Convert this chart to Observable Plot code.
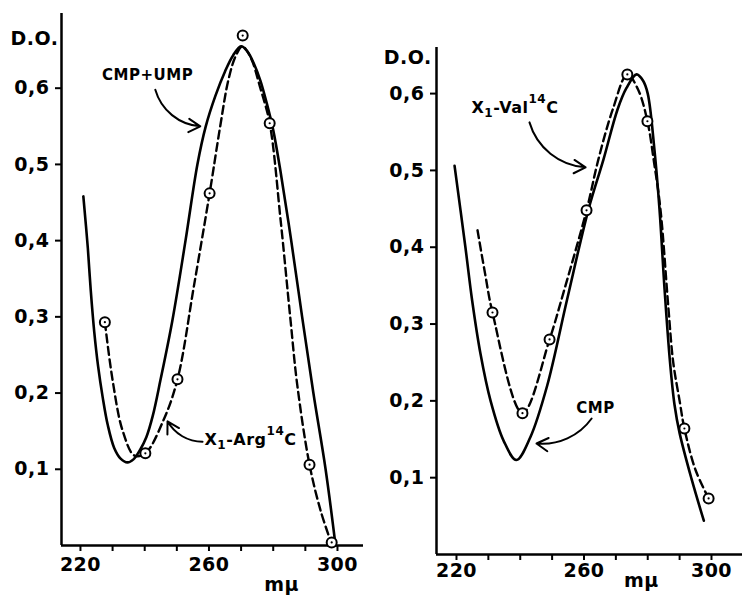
<!DOCTYPE html>
<html>
<head>
<meta charset="utf-8">
<script src="https://cdn.jsdelivr.net/npm/d3@7"></script>
<script src="https://cdn.jsdelivr.net/npm/@observablehq/plot@0.6"></script>
<style>
  html, body { margin: 0; padding: 0; background: #fff; }
  #wrap { position: relative; width: 742px; height: 595px; overflow: hidden; }
  #left, #right { position: absolute; top: 0; }
  #left { left: 0; }
  #right { left: 371px; }
  svg text { letter-spacing: 0.5px; }
  svg text.wide { letter-spacing: 1px; }
</style>
</head>
<body>
<div id="wrap"><div id="left"></div><div id="right"></div></div>
<script>
// ---------- Left panel data ----------
const leftSolid = [ // CMP+UMP
  [220.9,0.458],[222.3,0.39],[223.2,0.335],[224.3,0.28],[225.5,0.235],[226.9,0.195],[228.5,0.158],
  [230.5,0.128],[232.5,0.114],[234.6,0.109],[236.5,0.113],[238.5,0.125],[240.5,0.142],[242.5,0.17],
  [244.9,0.217],[248.6,0.295],[252.7,0.40],[256.4,0.50],[259,0.55],[262,0.59],[265,0.622],
  [267.5,0.643],[270,0.655],[272,0.648],[274,0.632],[276,0.61],[278,0.58],[280,0.545],
  [282.3,0.49],[285.6,0.40],[289,0.30],[292.5,0.20],[296.3,0.10],[299.4,0.0]
];
const leftDashed = [ // X1-Arg14C
  [227.6,0.293],[230,0.217],[233.1,0.151],[236.8,0.118],[240.2,0.121],[245.8,0.164],
  [250.2,0.218],[255.3,0.34],[260.2,0.462],[263.5,0.55],[266,0.61],[268.3,0.642],
  [270.4,0.655],[273,0.64],[276,0.60],[278.9,0.554],[282.3,0.427],[285.4,0.295],[287.5,0.21],
  [291.3,0.106],[294.8,0.045],[298.1,0.003]
];
const leftCircles = [
  [227.6,0.293],[240.2,0.121],[250.2,0.218],[260.2,0.462],[270.5,0.669],[278.9,0.554],[291.3,0.106],[298.2,0.004]
];
// ---------- Right panel data ----------
const rightSolid = [ // CMP
  [219.4,0.506],[222.8,0.40],[224.9,0.331],[227.5,0.262],[230.7,0.20],[234.8,0.148],[238.8,0.123],
  [243.2,0.153],[248.4,0.219],[254.7,0.332],[261.4,0.449],[266.1,0.514],[270.5,0.579],[273.3,0.607],
  [276.5,0.625],[278.5,0.617],[280,0.60],[282.1,0.527],[283.7,0.449],[285.3,0.344],[287,0.25],
  [288.4,0.195],[290,0.158],[293.7,0.099],[297.6,0.044]
];
const rightDashed = [ // X1-Val14C
  [226.6,0.422],[229,0.365],[231.3,0.315],[240.7,0.184],[249.2,0.28],[253.5,0.34],
  [260.8,0.448],[264.5,0.514],[269,0.579],[273.6,0.625],[277,0.605],[279.9,0.564],[282,0.51],
  [284,0.449],[286.5,0.32],[288,0.25],[290,0.2],[291.5,0.164],[295,0.11],[299.1,0.073]
];
const rightCircles = [
  [231.3,0.315],[240.7,0.184],[249.2,0.28],[260.8,0.448],[273.6,0.625],[279.9,0.564],[291.5,0.164],[299.1,0.073]
];
// ---------- Ticks ----------
const xTicks = [220,230,240,250,260,270,280,290,300];
const xTickLabels = [220,260,300];
const yTicks = [0.1,0.2,0.3,0.4,0.5,0.6];
// ---------- Annotations ----------
const leftNotes = [{text:"CMP+UMP", x:240.9, y:0.617}];
const leftNotesStart = [{text:"X₁-Arg¹⁴C", x:258.6, y:0.138}];
const leftArrowA = [{x1:243.3, y1:0.598, x2:257.3, y2:0.550}];
const leftArrowB = [{x1:258.0, y1:0.136, x2:247.1, y2:0.163}];
const rightNotes = [{text:"CMP", x:263.6, y:0.190}];
const rightNotesStart = [{text:"X₁-Val¹⁴C", x:224.7, y:0.582}];
const rightArrowA = [{x1:242.9, y1:0.5625, x2:260.5, y2:0.504}];
const rightArrowB = [{x1:262.4, y1:0.177, x2:245.1, y2:0.1445}];
const leftAxisLabels = {yLabel:{text:"D.O.", x:213.15, y:0.665}, xLabel:{text:"mμ", x:282.6, y:-0.052}};
const rightAxisLabels = {yLabel:{text:"D.O.", x:212.2, y:0.647}, xLabel:{text:"mμ", x:278.0, y:-0.034}};

const FONT = "DejaVu Sans";
const fmt = d => d.toFixed(1).replace(".", ",");

function panel(opt) {
  const {solid, dashed, circles, xDomain, yDomain, margins, notes, notesStart, arrowA, arrowB, labels, xPad} = opt;
  const arrowStyle = {x1: "x1", y1: "y1", x2: "x2", y2: "y2", stroke: "black", strokeWidth: 2, headLength: 10};
  return Plot.plot({
    width: 371, height: 595,
    marginLeft: margins[0], marginRight: margins[1], marginTop: margins[2], marginBottom: margins[3],
    x: {domain: xDomain},
    y: {domain: yDomain},
    style: {fontFamily: FONT, background: "white", color: "black"},
    marks: [
      Plot.ruleY([0], {stroke: "black", strokeWidth: 2.5}),
      Plot.ruleX([xDomain[0]], {stroke: "black", strokeWidth: 2.5}),
      Plot.axisX({ticks: xTicks, tickSize: 6, tickPadding: xPad, strokeWidth: 2,
        tickFormat: d => xTickLabels.includes(d) ? String(d) : "",
        fontSize: 19, fontWeight: "bold", fontFamily: FONT, label: null}),
      Plot.axisY({ticks: yTicks, tickSize: 6, tickPadding: 6, strokeWidth: 2,
        tickFormat: fmt, fontSize: 19, fontWeight: "bold", fontFamily: FONT, label: null}),
      Plot.line(solid, {x: d => d[0], y: d => d[1], curve: "catmull-rom", stroke: "black", strokeWidth: 2.6}),
      Plot.line(dashed, {x: d => d[0], y: d => d[1], curve: "catmull-rom", stroke: "black", strokeWidth: 2.4, strokeDasharray: "8,4.5"}),
      Plot.dot(circles, {x: d => d[0], y: d => d[1], r: 5, fill: "white", stroke: "black", strokeWidth: 2}),
      Plot.dot(circles, {x: d => d[0], y: d => d[1], r: 1.1, fill: "black"}),
      Plot.arrow(arrowA, {...arrowStyle, bend: -35}),
      Plot.arrow(arrowB, {...arrowStyle, bend: 30}),
      Plot.text(notes, {x: "x", y: "y", text: "text", fontSize: 15, fontWeight: "bold", fontFamily: FONT, fill: "black", textAnchor: "middle", className: "wide"}),
      Plot.text(notesStart, {x: "x", y: "y", text: "text", fontSize: 16, fontWeight: "bold", fontFamily: FONT, fill: "black", textAnchor: "start", className: "chem"}),
      Plot.text([labels.yLabel], {x: "x", y: "y", text: "text", fontSize: 19, fontWeight: "bold", fontFamily: FONT, fill: "black", textAnchor: "end"}),
      Plot.text([labels.xLabel], {x: "x", y: "y", text: "text", fontSize: 19, fontWeight: "bold", fontFamily: FONT, fill: "black", textAnchor: "middle"})
    ]
  });
}

// Render chemical labels with real sub/superscripts (same text, larger index digits)
function richChem(svg) {
  svg.querySelectorAll("g.chem text").forEach(t => {
    const s = t.textContent;
    const m = s.match(/^X₁-(\w+)¹⁴C$/);
    if (!m) return;
    const ns = "http://www.w3.org/2000/svg";
    while (t.firstChild) t.removeChild(t.firstChild);
    const parts = [["X", null], ["1", "sub"], ["-" + m[1], null], ["14", "sup"], ["C", null]];
    parts.forEach(([txt, kind]) => {
      const ts = document.createElementNS(ns, "tspan");
      ts.textContent = txt;
      if (kind === "sub") { ts.setAttribute("font-size", "12"); ts.setAttribute("dy", "4"); }
      if (kind === "sup") { ts.setAttribute("font-size", "12"); ts.setAttribute("dy", "-10"); }
      if (kind === null && t.childNodes.length) {
        const prev = t.lastChild;
        if (prev.getAttribute && prev.getAttribute("dy") === "4") ts.setAttribute("dy", "-4");
        if (prev.getAttribute && prev.getAttribute("dy") === "-10") ts.setAttribute("dy", "10");
      }
      t.appendChild(ts);
    });
  });
}

const leftSvg = panel({
  solid: leftSolid, dashed: leftDashed, circles: leftCircles,
  xDomain: [214.1, 308.1], yDomain: [0, 0.698], margins: [61, 8, 13, 50],
  notes: leftNotes, notesStart: leftNotesStart, arrowA: leftArrowA, arrowB: leftArrowB, labels: leftAxisLabels, xPad: 6
});
const rightSvg = panel({
  solid: rightSolid, dashed: rightDashed, circles: rightCircles,
  xDomain: [213.73, 309.73], yDomain: [0, 0.660], margins: [65, 0, 47, 41],
  notes: rightNotes, notesStart: rightNotesStart, arrowA: rightArrowA, arrowB: rightArrowB, labels: rightAxisLabels, xPad: 3
});
document.getElementById("left").append(leftSvg);
document.getElementById("right").append(rightSvg);
richChem(leftSvg);
richChem(rightSvg);
</script>
</body>
</html>
